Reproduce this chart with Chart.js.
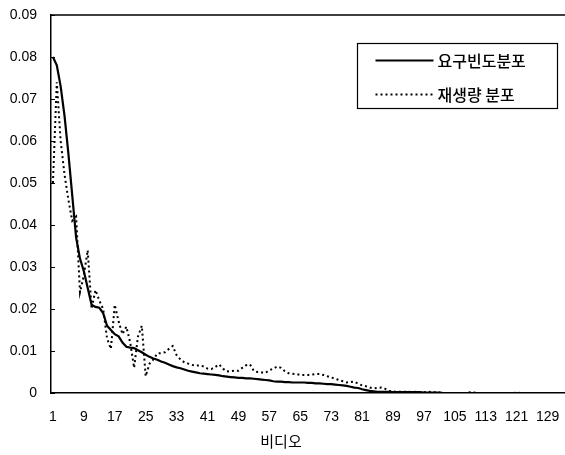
<!DOCTYPE html>
<html>
<head>
<meta charset="utf-8">
<script src="https://cdn.jsdelivr.net/npm/chart.js@4/dist/chart.umd.min.js"></script>
<style>
  html, body { margin: 0; padding: 0; background: #fff; }
  #wrap { position: relative; width: 565px; height: 455px; }
</style>
</head>
<body>
<div id="wrap"><canvas id="chart" width="565" height="455"></canvas></div>
<script>
// video index 1..133 (category axis)
const videoLabels = Array.from({ length: 133 }, (_, i) => String(i + 1));

// 요구빈도분포 (solid)
const demandFreq = [
  0.080, 0.078, 0.073, 0.066, 0.057, 0.047, 0.037, 0.032, 0.029, 0.025,
  0.021, 0.0205, 0.0203, 0.019, 0.016, 0.015, 0.014, 0.0135, 0.012, 0.011,
  0.0108, 0.0107, 0.0102, 0.0097, 0.0091, 0.0086, 0.0082, 0.0079, 0.0075, 0.0072,
  0.0068, 0.0064, 0.0061, 0.0059, 0.0056, 0.0053, 0.0051, 0.0049, 0.0047, 0.0046,
  0.0045, 0.0044, 0.0043, 0.0042, 0.0040, 0.0039, 0.0038, 0.0037, 0.0036, 0.0036,
  0.0035, 0.0035, 0.0034, 0.0033, 0.0032, 0.0031, 0.0030, 0.0028, 0.0027, 0.0027,
  0.0026, 0.0026, 0.0025, 0.0025, 0.0025, 0.0025, 0.0024, 0.0024, 0.0023, 0.0023,
  0.0022, 0.0021, 0.0021, 0.0020, 0.0019, 0.0018, 0.0017, 0.0015, 0.0013, 0.0012,
  0.0009, 0.0007, 0.0005, 0.0004, 0.0003, 0.0003, 0.0003, 0.0003, 0.0002, 0.0002,
  0.0002, 0.0002, 0.0002, 0.0002, 0.0002, 0.0002, 0.0001, 0.0001, 0.0001, 0.0001,
  0.0001, 0, 0, 0, 0, 0, 0, 0, 0, 0,
  0, 0, 0, 0, 0, 0, 0, 0, 0, 0,
  0, 0, 0, 0, 0, 0, 0, 0, 0, 0,
  0, 0, 0
];

// 재생량 분포 (dotted)
const playbackDist = [
  0.050, 0.074, 0.060, 0.052, 0.046, 0.041, 0.042, 0.024, 0.028, 0.034,
  0.020, 0.0245, 0.022, 0.020, 0.013, 0.0105, 0.021, 0.017, 0.014, 0.0158,
  0.012, 0.006, 0.0134, 0.016, 0.004, 0.007, 0.008, 0.0094, 0.0095, 0.0097,
  0.0105, 0.0112, 0.009, 0.008, 0.0073, 0.0070, 0.0067, 0.0065, 0.0066, 0.0063,
  0.0058, 0.0057, 0.0062, 0.0068, 0.0058, 0.0051, 0.0052, 0.0053, 0.0053, 0.0060,
  0.0066, 0.0068, 0.0052, 0.0050, 0.0049, 0.0048, 0.0054, 0.0058, 0.0063, 0.0060,
  0.0052, 0.0047, 0.0046, 0.0045, 0.0043, 0.0043, 0.0043, 0.0044, 0.0045, 0.0045,
  0.0043, 0.0040, 0.0037, 0.0034, 0.0031, 0.0028, 0.0025, 0.0026, 0.0027, 0.0022,
  0.0018, 0.0016, 0.0013, 0.0011, 0.0012, 0.0013, 0.0010, 0.0005, 0.0004, 0.0003,
  0.0003, 0.0003, 0.0003, 0.0002, 0.0003, 0.0002, 0.0002, 0.0003, 0.0002, 0.0002,
  0.0001, 0, 0, 0, 0, 0, 0, 0, 0.0002, 0.0001,
  0, 0, 0, 0, 0, 0, 0, 0, 0, 0,
  0.0001, 0, 0, 0, 0, 0, 0, 0, 0, 0,
  0, 0, 0
];

const yTicks = [0, 0.01, 0.02, 0.03, 0.04, 0.05, 0.06, 0.07, 0.08, 0.09];
const xTitle = '비디오';

const numFont = { family: '"Liberation Sans", Arial, sans-serif', size: 14 };
const krFont = '"Noto Sans CJK KR", "Noto Sans", sans-serif';

// frame top line, inner y ticks, boxed legend, axis title
const framePlugin = {
    id: 'frame',
    afterDraw(chart) {
        const ctx = chart.ctx;
        const a = chart.chartArea;
        const y = chart.scales.y;
        ctx.save();
        ctx.strokeStyle = '#000';
        ctx.lineWidth = 1.5;
        ctx.beginPath();
        ctx.moveTo(a.left, a.top);
        ctx.lineTo(a.right, a.top);
        ctx.stroke();

        ctx.lineWidth = 1;
        yTicks.forEach(v => {
            const py = Math.round(y.getPixelForValue(v)) + 0.5;
            ctx.beginPath();
            ctx.moveTo(a.left, py);
            ctx.lineTo(a.left + 4, py);
            ctx.stroke();
        });

        // legend box
        const bx = a.right - 207.5, by = 43.5, bw = 200, bh = 65;
        ctx.fillStyle = '#fff';
        ctx.fillRect(bx, by, bw, bh);
        ctx.strokeStyle = '#000';
        ctx.lineWidth = 1.2;
        ctx.strokeRect(bx, by, bw, bh);
        ctx.font = '500 16px ' + krFont;
        ctx.textBaseline = 'middle';
        ctx.textAlign = 'left';
        chart.data.datasets.forEach((ds, i) => {
            const ly = by + 17 + i * 34;
            ctx.strokeStyle = ds.borderColor;
            ctx.lineWidth = ds.borderWidth;
            ctx.setLineDash(ds.borderDash || []);
            ctx.beginPath();
            ctx.moveTo(bx + 18, ly);
            ctx.lineTo(bx + 76, ly);
            ctx.stroke();
            ctx.setLineDash([]);
            ctx.fillStyle = '#000';
            ctx.fillText(ds.label, bx + 80, ly);
        });

        // x axis title
        ctx.font = '15px ' + krFont;
        ctx.textAlign = 'center';
        ctx.fillStyle = '#000';
        ctx.fillText(xTitle, 281, 441);
        ctx.restore();
    }
};

new Chart(document.getElementById('chart'), {
    type: 'line',
    data: {
        labels: videoLabels,
        datasets: [
            {
                label: '요구빈도분포',
                data: demandFreq,
                borderColor: '#000',
                borderWidth: 2.2,
                pointRadius: 0,
                tension: 0,
                fill: false
            },
            {
                label: '재생량 분포',
                data: playbackDist,
                borderColor: '#000',
                borderWidth: 2,
                borderDash: [2, 3],
                pointRadius: 0,
                tension: 0,
                fill: false
            }
        ]
    },
    options: {
        responsive: false,
        animation: false,
        layout: { padding: { top: 15, right: 0, left: 0, bottom: 0 } },
        plugins: {
            legend: { display: false },
            tooltip: { enabled: false }
        },
        scales: {
            x: {
                offset: true,
                grid: { display: false, drawTicks: false },
                border: { display: true, color: '#000', width: 1.5 },
                ticks: {
                    autoSkip: false,
                    maxRotation: 0,
                    padding: 16,
                    color: '#000',
                    font: numFont,
                    callback: (v, i) => (i % 8 === 0 ? videoLabels[i] : null)
                },
                afterFit: s => {
                    s.height = 62;
                    s.paddingLeft = 0;
                    s.paddingRight = 0;
                }
            },
            y: {
                min: 0,
                max: 0.09,
                grid: { display: false, drawTicks: false },
                border: { display: true, color: '#000', width: 1.5 },
                ticks: {
                    stepSize: 0.01,
                    padding: 14,
                    color: '#000',
                    font: numFont,
                    callback: v => (v === 0 ? '0' : v.toFixed(2))
                },
                afterFit: s => {
                    s.width = 51;
                    s.paddingTop = 0;
                    s.paddingBottom = 0;
                }
            }
        }
    },
    plugins: [framePlugin]
});
</script>
</body>
</html>
